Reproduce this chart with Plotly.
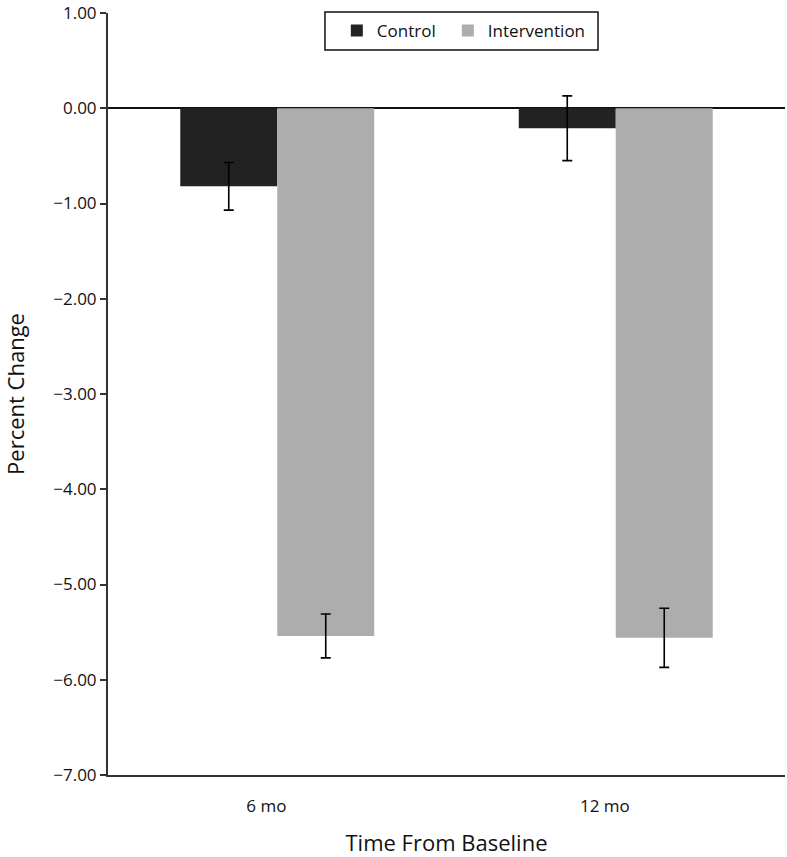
import plotly.graph_objects as go

categories = ["6 mo", "12 mo"]
control = [-0.82, -0.21]
control_err = [0.25, 0.34]
intervention = [-5.54, -5.56]
intervention_err = [0.23, 0.31]
y_ticks = [1, 0, -1, -2, -3, -4, -5, -6, -7]
y_ticktext = ["1.00", "0.00", "\u22121.00", "\u22122.00", "\u22123.00", "\u22124.00", "\u22125.00", "\u22126.00", "\u22127.00"]

FONT = "Open Sans"
xpos = list(range(len(categories)))
label_shift = -0.032  # tick labels sit slightly left of group centres in the reference

fig = go.Figure()
fig.add_trace(go.Bar(
    name="Control", x=xpos, y=control, legend="legend",
    marker=dict(color="#222222", line=dict(width=0)),
    error_y=dict(type="data", array=control_err, color="black", thickness=1.6, width=5),
))
fig.add_trace(go.Bar(
    name="Intervention", x=xpos, y=intervention, legend="legend2",
    marker=dict(color="#adadad", line=dict(width=0)),
    error_y=dict(type="data", array=intervention_err, color="black", thickness=1.6, width=5),
))

# legend frame (decoration) drawn as a paper-referenced rectangle
fig.add_shape(type="rect", xref="paper", yref="paper",
              x0=0.3205, x1=0.7238, y0=0.9514, y1=1.0013,
              line=dict(color="#111111", width=1.5), fillcolor="white", layer="above")

legend_common = dict(
    orientation="h", xanchor="left", y=1.0, yanchor="top",
    borderwidth=0, bgcolor="rgba(0,0,0,0)",
    font=dict(family=FONT, size=17, color="#111111"),
    itemwidth=30,
)

fig.update_layout(
    width=787, height=857,
    margin=dict(l=108, r=2, t=13, b=82, autoexpand=False),
    paper_bgcolor="white", plot_bgcolor="white",
    barmode="group", bargap=0.427, bargroupgap=0,
    font=dict(family=FONT, color="#111111", size=17),
    showlegend=True,
    legend=dict(x=0.338, **legend_common),
    legend2=dict(x=0.502, **legend_common),
    xaxis=dict(
        range=[-0.5, len(categories) - 0.5], automargin=False,
        tickvals=[p + label_shift for p in xpos], ticktext=categories,
        showline=True, linecolor="#333333", linewidth=2,
        ticks="", showgrid=False, zeroline=False,
        tickfont=dict(size=17, family=FONT), ticklabelstandoff=15,
        title=dict(text="Time From Baseline", font=dict(size=22, family=FONT), standoff=26),
    ),
    yaxis=dict(
        range=[-7, 1], tickvals=y_ticks, ticktext=y_ticktext, automargin=False,
        showline=True, linecolor="#333333", linewidth=2,
        ticks="outside", ticklen=6, tickcolor="#333333", tickwidth=1.5,
        showgrid=False, zeroline=True, zerolinecolor="#111111", zerolinewidth=1.5,
        tickfont=dict(size=17, family=FONT), ticklabeloverflow="allow",
        title=dict(text="Percent Change", font=dict(size=22, family=FONT), standoff=45),
    ),
)

fig.write_html("out.html", config={"displayModeBar": False},
               post_script="document.body.style.margin='0';")
